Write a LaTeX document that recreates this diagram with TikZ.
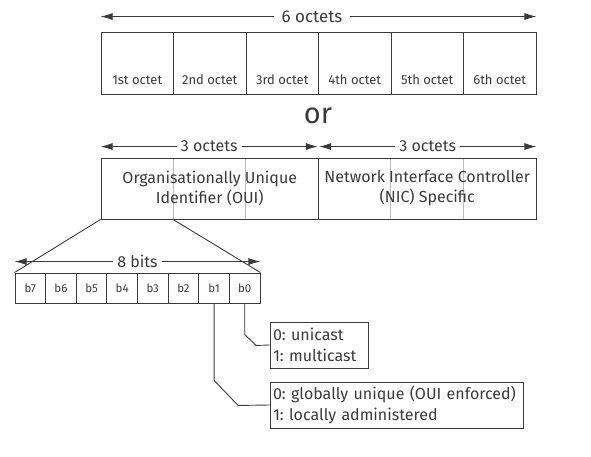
\documentclass[tikz,border=0pt]{standalone}
\usepackage{fontspec}
\setmainfont{Fira Sans}
\usepackage{tikz}
\usetikzlibrary{arrows.meta}

\definecolor{linegray}{HTML}{3A3A3A}
\definecolor{divgray}{HTML}{BDBDBD}

\frenchspacing

\begin{document}
\begin{tikzpicture}[x=1pt, y=-1pt,
    every node/.style={text=linegray},
    line/.style={draw=linegray, line width=0.9pt},
    span/.style={line, {Latex[length=12pt,width=7pt]}-{Latex[length=12pt,width=7pt]}},
    spanlabel/.style={fill=white, inner xsep=4pt, font=\fontsize{16}{18}\selectfont},
    octet/.style={line, minimum width=72.5pt, minimum height=62pt, inner sep=0pt,
        text height=53pt, text depth=9pt, font=\fontsize{13}{15}\selectfont},
    half/.style={line, minimum width=217.5pt, minimum height=61pt, inner sep=0pt,
        align=center, font=\fontsize{16}{20}\selectfont},
    bit/.style={line, minimum width=30.625pt, minimum height=30pt, inner sep=0pt,
        font=\fontsize{11.5}{13}\selectfont},
    note/.style={line, inner xsep=3pt, inner ysep=0pt, align=left,
        font=\fontsize{16}{21}\selectfont}]
    \useasboundingbox (0,0) rectangle (591,457);

    % six octets
    \node[octet] at (137.25, 63) (c1) {1st octet};
    \node[octet] at (209.75, 63) (c2) {2nd octet};
    \node[octet] at (282.25, 63) (c3) {3rd octet};
    \node[octet] at (354.75, 63) (c4) {4th octet};
    \node[octet] at (427.25, 63) (c5) {5th octet};
    \node[octet] at (499.75, 63) (c6) {6th octet};

    \draw[span] ([yshift=15pt]c1.north west) -- ([yshift=15pt]c6.north east)
        node[pos=0.485, spanlabel, inner xsep=8pt, font=\fontsize{17}{19}\selectfont] (six) {6 octets};

    \node[font=\fontsize{29}{32}\selectfont] at (318, 116) (or) {or};

    % OUI and NIC halves
    \draw[draw=divgray, line width=0.9pt] (c2.west |- 0,158) -- (c2.west |- 0,219);
    \draw[draw=divgray, line width=0.9pt] (c3.west |- 0,158) -- (c3.west |- 0,219);
    \draw[draw=divgray, line width=0.9pt] (c5.west |- 0,158) -- (c5.west |- 0,219);
    \draw[draw=divgray, line width=0.9pt] (c6.west |- 0,158) -- (c6.west |- 0,219);

    \node[half] at (209.75, 188.5) (oui) {Organisationally Unique\\Identifier (OUI)};
    \node[half] at (427.25, 188.5) (nic) {Network Interface Controller\\(NIC) Specific};

    \draw[span] ([yshift=11pt]oui.north west) -- ([yshift=11pt,xshift=-1pt]oui.north east)
        node[midway, spanlabel] (three1) {3 octets};
    \draw[span] ([yshift=11pt,xshift=1pt]nic.north west) -- ([yshift=11pt]nic.north east)
        node[midway, spanlabel] (three2) {3 octets};

    % first octet bits
    \node[bit] at (30.3, 288) (b7) {b7};
    \node[bit] at (60.9, 288) (b6) {b6};
    \node[bit] at (91.6, 288) (b5) {b5};
    \node[bit] at (122.2, 288) (b4) {b4};
    \node[bit] at (152.8, 288) (b3) {b3};
    \node[bit] at (183.4, 288) (b2) {b2};
    \node[bit] at (214.1, 288) (b1) {b1};
    \node[bit] at (244.7, 288) (b0) {b0};

    \draw[span] ([yshift=11pt]b7.north west) -- ([yshift=11pt]b0.north east)
        node[midway, spanlabel] (eight) {8 bits};

    \draw[line] (oui.south west) -- (b7.north west);
    \draw[line] (c2.west |- oui.south) -- (b0.north east);

    % meaning of b0 and b1
    \node[note, text width=92pt, minimum height=46pt] at (319, 345) (cast) {0: unicast\\1: multicast};
    \node[note, text width=247pt, minimum height=46pt] at (396.5, 405) (admin) {0: globally unique (OUI enforced)\\1: locally administered};

    \draw[line] (b0.south) -- ++(0, 31) -- ++(11.3, 11) -- (cast.west);
    \draw[line] (b1.south) -- ++(0, 77) -- ++(24, 25) -- (admin.west);
\end{tikzpicture}
\end{document}
